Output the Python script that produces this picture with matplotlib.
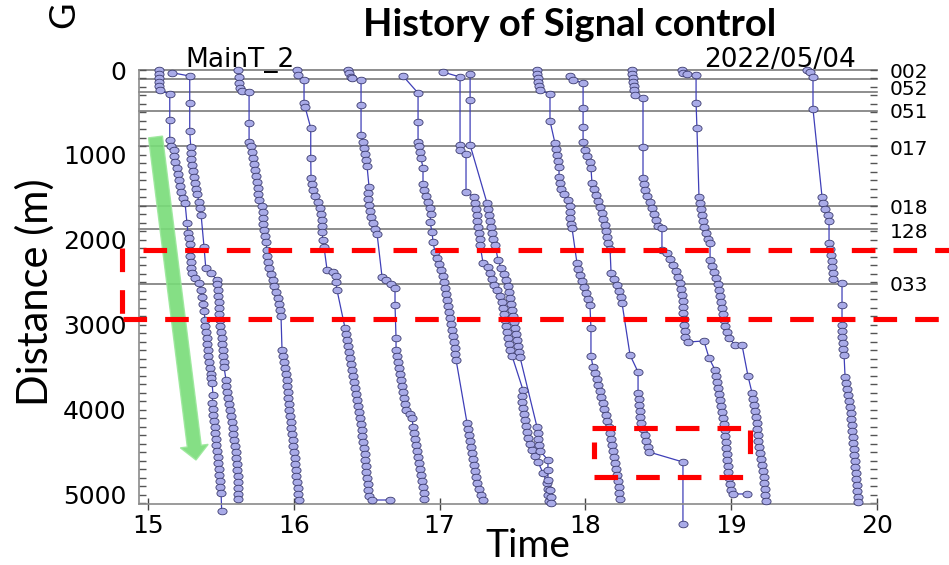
import matplotlib
matplotlib.use('Agg')
import matplotlib.pyplot as plt
import numpy as np
from matplotlib.path import Path
from matplotlib.transforms import Affine2D, IdentityTransform
from matplotlib.lines import Line2D
from matplotlib.patches import Polygon

plt.rcParams['lines.scale_dashes'] = False
plt.rcParams['font.family'] = ['DejaVu Sans']

# ---------------- data (time [h], distance [m]) ----------------
traj1 = [(15.075,0),(15.075,47),(15.075,94),(15.075,141),(15.075,188),(15.082,235),(15.149,286),(15.149,588),(15.149,824),(15.158,894),(15.178,941),(15.178,1012),(15.185,1082),(15.199,1153),(15.206,1224),(15.213,1294),(15.219,1365),(15.226,1435),(15.240,1506),(15.254,1565),(15.267,1800),(15.274,1918),(15.281,1976),(15.285,2047),(15.288,2118),(15.291,2188),(15.295,2259),(15.298,2329),(15.302,2388),(15.322,2447),(15.350,2506),(15.364,2588),(15.370,2671),(15.377,2753),(15.384,2835),(15.391,2941),(15.391,3012),(15.398,3082),(15.401,3153),(15.405,3224),(15.408,3294),(15.412,3365),(15.418,3435),(15.425,3506),(15.432,3576),(15.432,3624),(15.439,3682),(15.446,3824),(15.439,3918),(15.446,3988),(15.449,4059),(15.453,4129),(15.456,4200),(15.460,4271),(15.463,4341),(15.466,4412),(15.473,4482),(15.477,4553),(15.480,4624),(15.487,4694),(15.490,4765),(15.494,4835),(15.497,4906),(15.501,4976),(15.505,5188)]
traj2 = [(15.165,32),(15.286,71),(15.286,388),(15.286,717),(15.293,906),(15.295,976),(15.298,1047),(15.302,1118),(15.309,1188),(15.316,1259),(15.322,1329),(15.329,1400),(15.336,1459),(15.350,1553),(15.357,1624),(15.364,1706),(15.384,2082),(15.396,2329),(15.430,2388),(15.473,2471),(15.473,2518),(15.477,2588),(15.480,2659),(15.484,2729),(15.487,2800),(15.490,2871),(15.494,2941),(15.497,3012),(15.501,3082),(15.504,3153),(15.508,3224),(15.511,3294),(15.514,3365),(15.518,3435),(15.521,3494),(15.535,3647),(15.535,3718),(15.542,3788),(15.549,3859),(15.556,3929),(15.562,4000),(15.569,4071),(15.576,4141),(15.583,4212),(15.586,4282),(15.590,4353),(15.597,4424),(15.600,4494),(15.604,4565),(15.607,4635),(15.610,4706),(15.614,4776),(15.617,4847),(15.617,4918),(15.620,4988),(15.620,5047)]
traj3 = [(15.619,0),(15.624,82),(15.624,153),(15.631,212),(15.645,247),(15.693,262),(15.693,624),(15.693,847),(15.706,894),(15.713,965),(15.720,1035),(15.727,1106),(15.734,1176),(15.741,1247),(15.748,1318),(15.751,1388),(15.754,1459),(15.761,1529),(15.782,1600),(15.789,1671),(15.789,1741),(15.789,1812),(15.796,1882),(15.802,1953),(15.809,2024),(15.816,2118),(15.816,2188),(15.823,2259),(15.830,2329),(15.844,2400),(15.857,2471),(15.864,2541),(15.878,2612),(15.892,2682),(15.899,2753),(15.905,2824),(15.912,2894),(15.919,3294),(15.926,3365),(15.933,3435),(15.940,3506),(15.947,3576),(15.950,3647),(15.953,3718),(15.960,3788),(15.963,3859),(15.967,3929),(15.970,4000),(15.974,4071),(15.981,4141),(15.984,4212),(15.988,4282),(15.991,4353),(15.995,4424),(16.001,4494),(16.005,4565),(16.008,4635),(16.015,4706),(16.018,4776),(16.022,4847),(16.029,4918),(16.032,4988),(16.036,5059)]
traj4 = [(16.022,0),(16.029,59),(16.070,118),(16.070,388),(16.077,435),(16.116,682),(16.116,1035),(16.118,1270),(16.125,1341),(16.132,1412),(16.145,1482),(16.166,1553),(16.180,1624),(16.187,1694),(16.193,1765),(16.193,1835),(16.193,1906),(16.200,2000),(16.207,2082),(16.228,2353),(16.269,2376),(16.289,2424),(16.289,2494),(16.296,2588),(16.351,3035),(16.358,3106),(16.365,3176),(16.372,3247),(16.379,3318),(16.385,3388),(16.392,3459),(16.399,3529),(16.406,3600),(16.413,3671),(16.420,3741),(16.427,3812),(16.434,3882),(16.440,3953),(16.447,4024),(16.454,4094),(16.461,4165),(16.468,4235),(16.471,4306),(16.475,4376),(16.482,4447),(16.485,4518),(16.488,4588),(16.495,4659),(16.498,4729),(16.502,4800),(16.509,4871),(16.512,4941),(16.516,5012),(16.536,5059),(16.660,5059)]
traj5 = [(16.372,0),(16.379,35),(16.392,82),(16.399,94),(16.461,118),(16.461,412),(16.461,765),(16.475,847),(16.482,918),(16.488,988),(16.495,1059),(16.502,1129),(16.516,1376),(16.509,1447),(16.509,1518),(16.516,1588),(16.523,1659),(16.530,1729),(16.543,1800),(16.557,1871),(16.571,1929),(16.605,2435),(16.632,2471),(16.667,2518),(16.694,2565),(16.694,2765),(16.701,3153),(16.701,3294),(16.708,3365),(16.715,3435),(16.722,3506),(16.728,3576),(16.735,3647),(16.742,3718),(16.749,3788),(16.756,3859),(16.763,3929),(16.770,4000),(16.797,4047),(16.811,4094),(16.818,4200),(16.824,4271),(16.831,4341),(16.838,4412),(16.845,4482),(16.852,4553),(16.859,4624),(16.866,4694),(16.872,4765),(16.879,4835),(16.886,4906),(16.893,4976),(16.893,5047)]
traj6 = [(16.749,71),(16.852,271),(16.852,612),(16.852,847),(16.859,894),(16.866,965),(16.872,1035),(16.886,1153),(16.886,1341),(16.893,1412),(16.907,1482),(16.920,1553),(16.934,1624),(16.941,1694),(16.934,1788),(16.948,1906),(16.955,2024),(16.968,2141),(16.982,2212),(16.996,2282),(17.010,2353),(17.023,2424),(17.030,2494),(17.037,2565),(17.044,2635),(17.051,2706),(17.058,2776),(17.065,2847),(17.072,2918),(17.078,2988),(17.085,3059),(17.092,3129),(17.099,3200),(17.106,3271),(17.106,3341),(17.113,3412),(17.188,4153),(17.195,4224),(17.202,4294),(17.209,4365),(17.215,4435),(17.222,4506),(17.229,4576),(17.236,4647),(17.243,4718),(17.250,4788),(17.257,4859),(17.270,4929),(17.284,5000),(17.298,5059)]
traj7 = [(17.023,24),(17.140,82),(17.140,882),(17.140,941),(17.181,988),(17.181,1435),(17.236,1494),(17.243,1565),(17.250,1635),(17.257,1706),(17.257,1776),(17.263,1847),(17.270,1918),(17.277,1988),(17.277,2059),(17.298,2271),(17.332,2318),(17.346,2388),(17.359,2459),(17.373,2529),(17.394,2588),(17.414,2659),(17.428,2729),(17.435,2800),(17.442,2871),(17.449,2941),(17.455,3012),(17.462,3082),(17.469,3153),(17.476,3224),(17.483,3294),(17.497,3365),(17.572,3765),(17.565,3835),(17.565,3906),(17.572,3976),(17.579,4047),(17.586,4118),(17.593,4188),(17.600,4259),(17.607,4329),(17.620,4400),(17.634,4471),(17.655,4541),(17.675,4612),(17.709,4741),(17.737,4859),(17.743,4929),(17.743,5000),(17.750,5071)]
traj8 = [(17.209,47),(17.209,353),(17.209,882),(17.325,1565),(17.332,1635),(17.339,1706),(17.346,1776),(17.353,1847),(17.359,1918),(17.366,1988),(17.380,2059),(17.401,2235),(17.421,2329),(17.442,2400),(17.455,2471),(17.469,2541),(17.476,2612),(17.483,2682),(17.490,2753),(17.497,2824),(17.504,2894),(17.510,2965),(17.517,3035),(17.524,3106),(17.531,3176),(17.538,3247),(17.545,3318),(17.551,3376),(17.668,4200),(17.675,4271),(17.675,4341),(17.682,4412),(17.689,4482),(17.743,4588),(17.743,4706),(17.743,4824),(17.757,4941),(17.764,5024),(17.764,5094)]
traj9 = [(17.668,0),(17.668,47),(17.675,94),(17.675,141),(17.682,188),(17.689,235),(17.757,282),(17.757,600),(17.791,859),(17.798,929),(17.805,1000),(17.812,1071),(17.819,1141),(17.819,1259),(17.826,1329),(17.832,1400),(17.853,1459),(17.881,1529),(17.894,1600),(17.894,1671),(17.894,1741),(17.901,1812),(17.908,1859),(17.942,2271),(17.949,2341),(17.963,2412),(17.977,2482),(17.990,2553),(18.004,2624),(18.018,2694),(18.031,2765),(18.038,3035),(18.038,3365),(18.052,3494),(18.066,3565),(18.079,3635),(18.086,3706),(18.100,3776),(18.107,3847),(18.121,3918),(18.128,3988),(18.141,4059),(18.148,4129),(18.162,4200),(18.169,4271),(18.176,4341),(18.182,4412),(18.189,4482),(18.196,4553),(18.203,4624),(18.210,4694),(18.217,4765),(18.224,4835),(18.230,4906),(18.230,4976),(18.237,5047)]
traj10 = [(17.894,71),(17.915,118),(17.984,153),(17.984,447),(17.984,671),(17.984,847),(17.997,941),(18.011,1012),(18.031,1082),(18.038,1153),(18.045,1329),(18.059,1400),(18.073,1471),(18.086,1541),(18.100,1612),(18.114,1682),(18.121,1753),(18.134,1824),(18.141,1894),(18.148,1965),(18.155,2035),(18.169,2106),(18.176,2388),(18.196,2459),(18.217,2529),(18.230,2600),(18.244,2671),(18.251,2741),(18.306,3353),(18.361,3553),(18.361,3800),(18.368,3871),(18.368,3941),(18.374,4012),(18.374,4082),(18.381,4153),(18.395,4224),(18.409,4294),(18.416,4365),(18.429,4435),(18.436,4494),(18.669,4612),(18.669,5341)]
traj11 = [(18.320,0),(18.320,47),(18.326,94),(18.326,141),(18.333,188),(18.333,235),(18.340,294),(18.395,329),(18.395,906),(18.395,1270),(18.402,1341),(18.409,1412),(18.422,1482),(18.443,1553),(18.457,1624),(18.471,1694),(18.484,1765),(18.498,1835),(18.525,1859),(18.525,2118),(18.560,2153),(18.580,2224),(18.601,2294),(18.621,2365),(18.635,2435),(18.649,2506),(18.656,2576),(18.663,2647),(18.669,2718),(18.669,2788),(18.669,2859),(18.676,2929),(18.676,3000),(18.683,3071),(18.683,3141),(18.704,3200),(18.813,3188),(18.848,3388),(18.889,3529),(18.896,3600),(18.903,3671),(18.909,3741),(18.916,3812),(18.923,3882),(18.930,3953),(18.937,4024),(18.944,4094),(18.951,4165),(18.957,4235),(18.957,4306),(18.964,4376),(18.964,4447),(18.971,4518),(18.971,4588),(18.978,4659),(18.978,4729),(18.985,4800),(18.992,4871),(18.998,4941),(19.012,4988),(19.108,4988)]
traj12 = [(18.663,0),(18.670,35),(18.697,47),(18.759,59),(18.759,388),(18.765,682),(18.779,1494),(18.786,1565),(18.793,1635),(18.800,1706),(18.807,1776),(18.813,1847),(18.827,1918),(18.841,1988),(18.855,2035),(18.855,2235),(18.868,2306),(18.882,2376),(18.896,2447),(18.909,2518),(18.916,2588),(18.923,2659),(18.930,2729),(18.937,2800),(18.944,2871),(18.951,2941),(18.957,3012),(18.971,3082),(18.985,3153),(19.026,3235),(19.074,3235),(19.115,3600),(19.143,3800),(19.150,3871),(19.156,3941),(19.163,4012),(19.170,4082),(19.177,4153),(19.177,4224),(19.184,4294),(19.184,4365),(19.191,4435),(19.198,4506),(19.204,4576),(19.211,4647),(19.218,4718),(19.225,4788),(19.225,4859),(19.232,4929),(19.232,5000),(19.239,5071)]
traj13 = [(19.520,0),(19.540,24),(19.561,82),(19.561,459),(19.623,1494),(19.630,1565),(19.643,1635),(19.664,1706),(19.671,1776),(19.671,2035),(19.678,2106),(19.685,2176),(19.691,2247),(19.691,2318),(19.698,2388),(19.698,2459),(19.760,2506),(19.760,2765),(19.760,3000),(19.760,3071),(19.760,3141),(19.767,3212),(19.767,3282),(19.774,3353),(19.781,3612),(19.787,3682),(19.794,3753),(19.801,3824),(19.808,3894),(19.815,3965),(19.822,4035),(19.822,4106),(19.829,4176),(19.829,4247),(19.835,4318),(19.835,4388),(19.842,4459),(19.842,4529),(19.849,4600),(19.849,4671),(19.856,4741),(19.856,4812),(19.863,4882),(19.863,4953),(19.870,5024),(19.870,5082)]

trajectories = [traj1, traj2, traj3, traj4, traj5, traj6, traj7,
                traj8, traj9, traj10, traj11, traj12, traj13]

signal_dist = [0, 106, 262, 478, 890, 1596, 1871, 2518]
signal_names = ['002', '052', '051', '017', '018', '128', '033']
signal_label_dist = [24, 228, 505, 941, 1635, 1906, 2541]

x_ticks = [15, 16, 17, 18, 19, 20]
y_ticks = [0, 1000, 2000, 3000, 4000, 5000]

title = 'History of Signal control'
x_label = 'Time'
y_label = 'Distance (m)'
left_note = 'MainT_2'
right_note = '2022/05/04'

# ---------------- figure ----------------
W, H, DPI = 949, 565, 100
fig = plt.figure(figsize=(W / DPI, H / DPI), dpi=DPI)
fig.patch.set_facecolor('white')

ax = fig.add_axes([139 / W, 1 - 504 / H, (877 - 139) / W, (504 - 70) / H])
ax.set_xlim(14.938, 20.0)
ax.set_ylim(5106, 0)
ax.set_facecolor('white')

for d in signal_dist:
    ax.axhline(d, color='#7a7a7a', lw=1.2, zorder=1, clip_on=False)

ellipse = Path.unit_circle().transformed(Affine2D().scale(1, 0.72))
for tr in trajectories:
    t = [p[0] for p in tr]
    d = [p[1] for p in tr]
    ax.plot(t, d, color='#3f3fb8', lw=0.9, zorder=2, clip_on=False)
    ax.plot(t, d, linestyle='none', marker=ellipse, ms=6.6,
            mfc='#a9abe8', mec='#3a3a6e', mew=0.6, zorder=3, clip_on=False)

for sp in ['top', 'right']:
    ax.spines[sp].set_visible(False)
for sp in ['left', 'bottom']:
    ax.spines[sp].set_color('#8a8a8a')
    ax.spines[sp].set_linewidth(1.2)

ax.set_xticks(x_ticks)
ax.set_xticklabels([str(v) for v in x_ticks])
ax.set_yticks(y_ticks)
ax.set_yticklabels([str(v) for v in y_ticks])
ax.set_yticks(np.arange(0, 5101, 100), minor=True)
ax.tick_params(axis='y', which='both', direction='in', length=5, width=1,
               color='#555555', left=True, right=True, labelsize=18, pad=9)
ax.tick_params(axis='x', which='major', direction='inout', length=8, width=1,
               color='#444444', labelsize=18, pad=3)

for name, yv in zip(signal_names, signal_label_dist):
    ax.text(1.0176, yv, name, transform=ax.get_yaxis_transform(),
            ha='left', va='center', fontsize=14.5, color='black',
            family='DejaVu Sans')

fig.text(185 / W, 1 - 67 / H, left_note, ha='left', va='baseline',
         fontsize=19, family='DejaVu Sans')
fig.text(856 / W, 1 - 67 / H, right_note, ha='right', va='baseline',
         fontsize=19, family='DejaVu Sans')

fig.text(570 / W, 1 - 25 / H, title, ha='center', va='center',
         fontsize=27.5, fontweight='bold', family='Lato')
fig.text(35 / W, 1 - 292 / H, y_label, rotation=90, ha='center', va='center',
         fontsize=30, family='Lato')
fig.text(528 / W, 1 - 546 / H, x_label, ha='center', va='center',
         fontsize=28, family='Lato')
fig.text(64 / W, 1 - 15 / H, 'G', rotation=90, ha='center', va='center',
         fontsize=26, family='Lato')

# ---------------- annotations in pixel space ----------------
ident = IdentityTransform()

def px(xs, ys):
    return list(xs), [H - y for y in ys]

def dashed(xs, ys, offset=0):
    x, y = px(xs, ys)
    fig.add_artist(Line2D(x, y, transform=ident, color='#ff0000', lw=3.7,
                          linestyle=(offset, (17, 13)), zorder=10))

dashed([143, 949], [250, 250])
dashed([123, 949], [319, 319])
dashed([122, 122], [248, 319])
dashed([592, 745], [428, 428])
dashed([594, 745], [477, 477])
dashed([594, 594], [442, 472], offset=5)
dashed([750, 750], [430, 470])

# green arrow
S = np.array([155.5, 137.0])
T = np.array([196.0, 460.0])
u = (T - S) / np.linalg.norm(T - S)
n = np.array([-u[1], u[0]])
B = T - u * 14
pts = [S + n * 7, B + n * 7, B + n * 14, T, B - n * 14, B - n * 7, S - n * 7]
pts = [(p[0], H - p[1]) for p in pts]
fig.add_artist(Polygon(pts, closed=True, transform=ident, facecolor='#78dc78',
                       edgecolor='#9be89b', lw=1, alpha=0.9, zorder=9))

fig.savefig('out.png', dpi=DPI)
